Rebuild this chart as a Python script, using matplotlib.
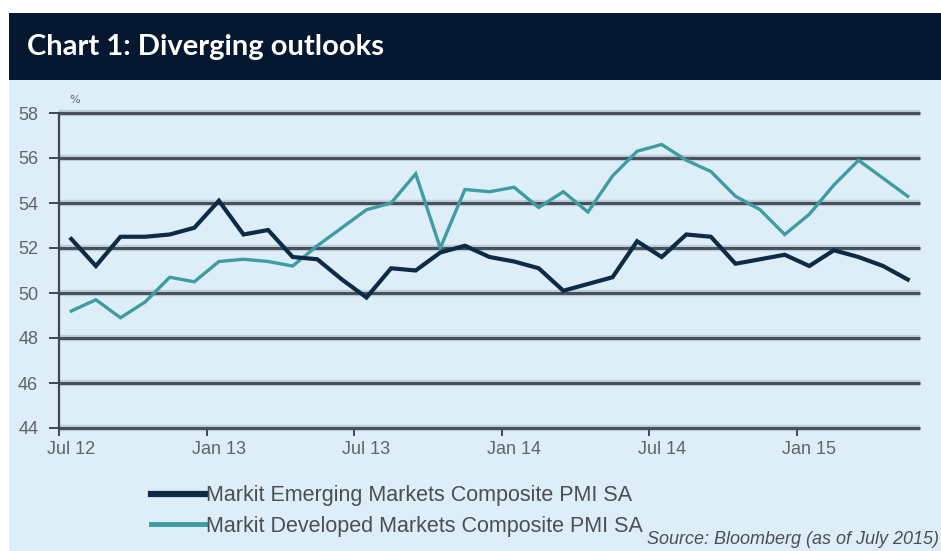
import matplotlib
matplotlib.use("Agg")
import matplotlib.pyplot as plt
from matplotlib.patches import Rectangle
from matplotlib.lines import Line2D
import pandas as pd

# Monthly composite PMI readings, Jul 2012 - May 2015
months = pd.date_range("2012-07-01", periods=35, freq="MS").strftime("%b %y").tolist()
emerging = [52.4, 51.2, 52.5, 52.5, 52.6, 52.9, 54.1, 52.6, 52.8, 51.6,
            51.5, 50.6, 49.8, 51.1, 51.0, 51.8, 52.1, 51.6, 51.4, 51.1,
            50.1, 50.4, 50.7, 52.3, 51.6, 52.6, 52.5, 51.3, 51.5, 51.7,
            51.2, 51.9, 51.6, 51.2, 50.6]
developed = [49.2, 49.7, 48.9, 49.6, 50.7, 50.5, 51.4, 51.5, 51.4, 51.2,
             52.1, 52.9, 53.7, 54.0, 55.3, 52.0, 54.6, 54.5, 54.7, 53.8,
             54.5, 53.6, 55.2, 56.3, 56.6, 55.9, 55.4, 54.3, 53.7, 52.6,
             53.5, 54.8, 55.9, 55.1, 54.3]
series_names = ["Markit Emerging Markets Composite PMI SA",
                "Markit Developed Markets Composite PMI SA"]
y_ticks = [44, 46, 48, 50, 52, 54, 56, 58]
label_every = 6

title = "Chart 1: Diverging outlooks"
source = "Source: Bloomberg (as of July 2015)"

navy = "#06182f"
panel = "#ddeef8"
grid_col = "#46515c"
em_col = "#0f2a44"
dm_col = "#3f9d9f"
txt_col = "#5f6468"
fam = ["Liberation Sans Narrow", "Liberation Sans", "DejaVu Sans"]

W, H = 941, 551
fig = plt.figure(figsize=(W / 100, H / 100), dpi=100)
fig.patch.set_facecolor("white")

# light panel and title band, kept behind the axes
fig.patches.append(Rectangle((9 / W, 0), 932 / W, (H - 80) / H,
                             transform=fig.transFigure, facecolor=panel,
                             edgecolor="none", zorder=-2))
fig.patches.append(Rectangle((9 / W, (H - 80) / H), 932 / W, 67 / H,
                             transform=fig.transFigure, facecolor=navy,
                             edgecolor="none", zorder=-2))
fig.text(27 / W, 1 - 47 / H, title, color="white", fontsize=21,
         fontweight="bold", family=["Lato", "DejaVu Sans"], va="center", ha="left")

ax = fig.add_axes([59 / W, (H - 428) / H, 861 / W, 315 / H])
ax.set_facecolor("none")

x = list(range(len(months)))
ax.set_xlim(-0.5, len(months) - 0.5)
ax.set_ylim(y_ticks[0], y_ticks[-1])

# horizontal grid with a soft halo
for v in y_ticks:
    ax.axhline(v, color="#9aaab5", lw=4.6, alpha=0.45, zorder=1,
               solid_capstyle="butt", clip_on=False)
    ax.axhline(v, color=grid_col, lw=2.2, zorder=2, solid_capstyle="butt",
               clip_on=False)

ax.plot(x, emerging, color=em_col, lw=3.0, zorder=4, solid_joinstyle="miter")
ax.plot(x, developed, color=dm_col, lw=2.4, zorder=3, solid_joinstyle="miter")

for s in ["top", "right", "bottom"]:
    ax.spines[s].set_visible(False)
ax.spines["left"].set_color("#3d4852")
ax.spines["left"].set_linewidth(1.6)

ax.set_yticks(y_ticks)
ax.set_yticklabels([str(v) for v in y_ticks])
ax.tick_params(axis="y", direction="out", length=7, width=1.4, color="#3d4852",
               labelsize=13, labelcolor=txt_col, pad=8)

# x ticks sit on category boundaries; labels sit under the category
bounds = [i - 0.5 for i in range(0, len(months), label_every)]
centers = list(range(0, len(months), label_every))
ax.set_xticks(bounds)
ax.set_xticklabels([])
ax.tick_params(axis="x", which="major", direction="out", length=6, width=1.4,
               color="#3d4852")
ax.set_xticks(centers, minor=True)
ax.set_xticklabels([months[i] for i in centers], minor=True)
ax.tick_params(axis="x", which="minor", length=0, labelsize=13,
               labelcolor=txt_col, pad=9)

for lab in ax.get_xticklabels(minor=True) + ax.get_yticklabels():
    lab.set_family(fam)

fig.text(75 / W, 1 - 100 / H, "%", fontsize=8, color=txt_col, ha="center", va="center")

handles = [Line2D([], [], color=em_col, lw=4.5),
           Line2D([], [], color=dm_col, lw=3.5)]
leg = fig.legend(handles, series_names, loc="upper left",
                 bbox_to_anchor=(136 / W, 1 - 470 / H), frameon=False,
                 handlelength=2.5, handletextpad=0.05, labelspacing=0.45,
                 borderpad=0.2, prop={"family": fam, "size": 15.5})
for t in leg.get_texts():
    t.set_color("#4a4f54")

fig.text(939 / W, 1 - 540 / H, source, fontsize=13, style="italic",
         color="#4a4f54", ha="right", va="center", family=fam)

fig.savefig("out.png", dpi=100)
